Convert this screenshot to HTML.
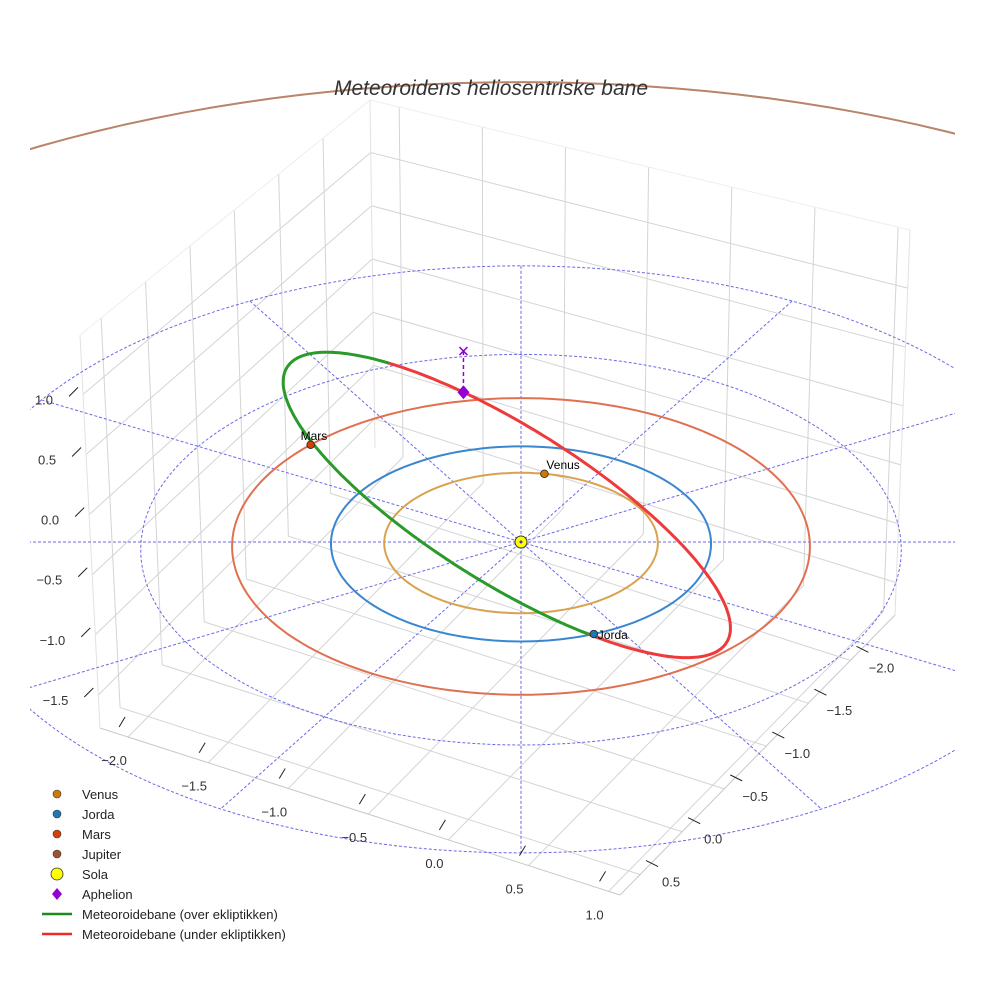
<!DOCTYPE html>
<html><head><meta charset="utf-8"><style>
html,body{margin:0;padding:0;background:#fff;overflow:hidden;}
svg{display:block;font-family:"Liberation Sans",sans-serif;}
</style></head><body>
<svg id="chart" width="984" height="984" viewBox="0 0 984 984" xmlns="http://www.w3.org/2000/svg">
<defs><clipPath id="clip"><rect x="30" y="0" width="925" height="984"/></clipPath></defs>
<rect width="984" height="984" fill="#fff"/>
<g id="box"></g>
<g id="grid" clip-path="url(#clip)"></g>
<g id="orbits" clip-path="url(#clip)"></g>
<g id="met"></g>
<g id="marks"></g>
<g id="ticks"></g>
<text x="491" y="95" text-anchor="middle" font-size="21" font-style="italic" fill="#333">Meteoroidens heliosentriske bane</text>
<g id="legend"></g>
</svg>
<script>
// ---- data ----
const xTicks = ["−2.0","−1.5","−1.0","−0.5","0.0","0.5","1.0"];
const yTicks = ["0.5","0.0","−0.5","−1.0","−1.5","−2.0"];
const zTicks = ["−1.5","−1.0","−0.5","0.0","0.5","1.0"];
const planetNames = ["Venus","Jorda","Mars","Jupiter"];
const planetRadii = [0.72, 1.0, 1.52, 5.2];
const planetAngles = [80, -67.9, 138, 90];
const planetColors = ["#cc7a00","#1f77b4","#d43f0a","#a0522d"];
const ringColors = ["#d9a24e","#3a86d0","#e07050","#b8846a"];
const gridRadii = [1, 2, 3];
const gridAngles = [0,30,60,90,120,150];
const orbitA = [1.55];
const orbitE = [0.355];
const perihelionDir = [0.15, -0.97, 0.17];
const inPlaneDir = [0.805, -0.007, -0.593];

const NS="http://www.w3.org/2000/svg";
function el(tag, attrs, parent){const e=document.createElementNS(NS,tag);for(const k in attrs)e.setAttribute(k,attrs[k]);parent.appendChild(e);return e;}
function P(x,y,z){const p=1/(1+0.0197*y);return [521+190*x*p, 542-97.5*y*p-120*z*p];}
function lerp(a,b,t){return [a[0]+(b[0]-a[0])*t, a[1]+(b[1]-a[1])*t];}

// ---- box ----
const box=document.getElementById('box');
const L0=[100,728],F0=[620,895],R0=[895,615],B0=[375,448],LT=[80,335],BT=[370,100],RT=[910,230];
function line(g,a,b,st,w,name){const l=el('line',{x1:a[0],y1:a[1],x2:b[0],y2:b[1],stroke:st,'stroke-width':w},g);

return l;}
const gc="#d4d4d4";
xTicks.forEach((t,i)=>{const s=0.054+0.154*i;
 line(box,lerp(L0,F0,s),lerp(B0,R0,s),gc,1,'floor-gridline-x');
 line(box,lerp(B0,R0,s),lerp(BT,RT,s),gc,1,'wall-gridline-x');});
yTicks.forEach((t,j)=>{const s=0.073+0.153*j;
 line(box,lerp(F0,R0,s),lerp(L0,B0,s),gc,1,'floor-gridline-y');
 line(box,lerp(L0,B0,s),lerp(LT,BT,s),gc,1,'wall-gridline-y');});
zTicks.forEach((t,k)=>{const s=0.084+0.153*k;
 const a=lerp(L0,LT,s),b=lerp(B0,BT,s),c=lerp(R0,RT,s);
 line(box,a,b,gc,1,'wall-gridline-z');line(box,b,c,gc,1,'wall-gridline-z');});
line(box,L0,F0,"#c8c8c8",1,'x-axis-edge');line(box,F0,R0,"#c8c8c8",1,'y-axis-edge');
line(box,L0,LT,"#e2e2e2",1,'z-axis-edge');line(box,R0,RT,"#e2e2e2",1,'box-edge');
line(box,LT,BT,"#eeeeee",1,'box-edge');line(box,BT,RT,"#eeeeee",1,'box-edge');line(box,B0,BT,"#e2e2e2",1,'box-edge');

// ---- ticks ----
const tk=document.getElementById('ticks');
function label(x,y,txt,anchor,name){const t=el('text',{x:x,y:y,'font-size':13,fill:'#333','text-anchor':anchor},tk);t.textContent=txt;

}
xTicks.forEach((t,i)=>{const p=lerp(L0,F0,0.054+0.154*i);
 line(tk,[p[0]-3,p[1]-20],[p[0]-9,p[1]-10],"#222",1,'x-tick');
 label(p[0]-14,p[1]+28,t,'middle','x-tick-label');});
yTicks.forEach((t,j)=>{const p=lerp(F0,R0,0.073+0.153*j);
 line(tk,[p[0]+6,p[1]-14],[p[0]+18,p[1]-8],"#222",1,'y-tick');
 label(p[0]+31,p[1]+12,t,'middle','y-tick-label');});
zTicks.forEach((t,k)=>{const p=lerp(L0,LT,0.084+0.153*k);
 line(tk,[p[0]-14,p[1]+2],[p[0]-5,p[1]-7],"#222",1,'z-tick');
 label(p[0]-30,p[1]+10,t,'end','z-tick-label');});

// ---- ecliptic grid ----
const grid=document.getElementById('grid');
function circlePath(r){let d="";for(let a=0;a<=360;a+=2){const q=P(r*Math.cos(a*Math.PI/180),r*Math.sin(a*Math.PI/180),0);d+=(a?"L":"M")+q[0].toFixed(1)+","+q[1].toFixed(1);}return d;}
gridRadii.forEach(r=>{const e=el('path',{d:circlePath(r),fill:'none',stroke:'#6a6ae8','stroke-width':1,'stroke-dasharray':'3,2'},grid);

});
const rMax=gridRadii[gridRadii.length-1];
gridAngles.forEach(a=>{const c=Math.cos(a*Math.PI/180),s=Math.sin(a*Math.PI/180);
 const p1=P(rMax*c,rMax*s,0),p2=P(-rMax*c,-rMax*s,0);
 const e=el('line',{x1:p1[0],y1:p1[1],x2:p2[0],y2:p2[1],stroke:'#6a6ae8','stroke-width':1,'stroke-dasharray':'3,2'},grid);
 
 });

// ---- planet orbits ----
const orb=document.getElementById('orbits');
planetRadii.forEach((r,i)=>{const e=el('path',{d:circlePath(r),fill:'none',stroke:ringColors[i],'stroke-width':2},orb);

});

// ---- meteoroid orbit ----
const met=document.getElementById('met');
function orbitPt(nuDeg){const nu=nuDeg*Math.PI/180,a=orbitA[0],e=orbitE[0];const r=a*(1-e*e)/(1+e*Math.cos(nu));
 const c=Math.cos(nu),s=Math.sin(nu);return [0,1,2].map(k=>r*(c*perihelionDir[k]+s*inPlaneDir[k]));}
let segs=[],cur=null,curUp=null;
for(let n=0;n<=360;n+=1){const v=orbitPt(n);const up=v[2]>=0;const q=P(v[0],v[1],v[2]);
 if(cur===null||up!==curUp){const prev=cur?cur.pts[cur.pts.length-1]:null;cur={up:up,pts:prev?[prev]:[]};segs.push(cur);curUp=up;}
 cur.pts.push(q);}
segs.forEach(sg=>{const d=sg.pts.map((q,i)=>(i?"L":"M")+q[0].toFixed(1)+","+q[1].toFixed(1)).join("");
 const e=el('path',{d:d,fill:'none',stroke:sg.up?'#2a9a2a':'#ee3a3a','stroke-width':3,'stroke-linecap':'round'},met);
 
 });

// ---- markers ----
const mk=document.getElementById('marks');
const ap=orbitPt(180),apS=P(ap[0],ap[1],ap[2]),apE=P(ap[0],ap[1],0);
let e=el('line',{x1:apE[0],y1:apE[1],x2:apS[0],y2:apS[1],stroke:'#9400d3','stroke-width':1.5,'stroke-dasharray':'4,3'},mk);


e=el('path',{d:`M${apE[0]-4},${apE[1]-4}L${apE[0]+4},${apE[1]+4}M${apE[0]+4},${apE[1]-4}L${apE[0]-4},${apE[1]+4}`,stroke:'#9400d3','stroke-width':1.5},mk);


e=el('path',{d:`M${apS[0]},${apS[1]-7}L${apS[0]+6},${apS[1]}L${apS[0]},${apS[1]+7}L${apS[0]-6},${apS[1]}Z`,fill:'#9400d3'},mk);


[0,1,2].forEach(i=>{const a=planetAngles[i]*Math.PI/180,r=planetRadii[i];const q=P(r*Math.cos(a),r*Math.sin(a),0);
 const c=el('circle',{cx:q[0],cy:q[1],r:3.8,fill:planetColors[i],stroke:'#222','stroke-width':0.8},mk);
 
 
 const t=el('text',{x:q[0]+(i===2?-10:2),y:q[1]-5,'font-size':12,fill:'#000'},mk);t.textContent=planetNames[i];
 if(i===1){t.setAttribute('x',q[0]+4);t.setAttribute('y',q[1]+5);}
 
 });
const sun=P(0,0,0);
e=el('circle',{cx:sun[0],cy:sun[1],r:6,fill:'#ffff00',stroke:'#333','stroke-width':1},mk);


e=el('circle',{cx:sun[0],cy:sun[1],r:1.5,fill:'#3a3ad0'},mk);



// ---- legend ----
const lg=document.getElementById('legend');
const legendLabels=["Venus","Jorda","Mars","Jupiter","Sola","Aphelion","Meteoroidebane (over ekliptikken)","Meteoroidebane (under ekliptikken)"];
legendLabels.forEach((lab,i)=>{const y=794+20*i;let m;
 if(i<4){m=el('circle',{cx:57,cy:y,r:4,fill:planetColors[i],stroke:'#333','stroke-width':0.6},lg);}
 else if(i===4){m=el('circle',{cx:57,cy:y,r:6,fill:'#ffff00',stroke:'#333','stroke-width':0.8},lg);}
 else if(i===5){m=el('path',{d:`M57,${y-6}L62,${y}L57,${y+6}L52,${y}Z`,fill:'#9400d3'},lg);}
 else{m=el('line',{x1:42,y1:y,x2:72,y2:y,stroke:i===6?'#1e8a1e':'#ee2a2a','stroke-width':2.5},lg);}
 
 
 const t=el('text',{x:82,y:y+5,'font-size':13,fill:'#222'},lg);t.textContent=lab;
 
 });
</script>
</body></html>
